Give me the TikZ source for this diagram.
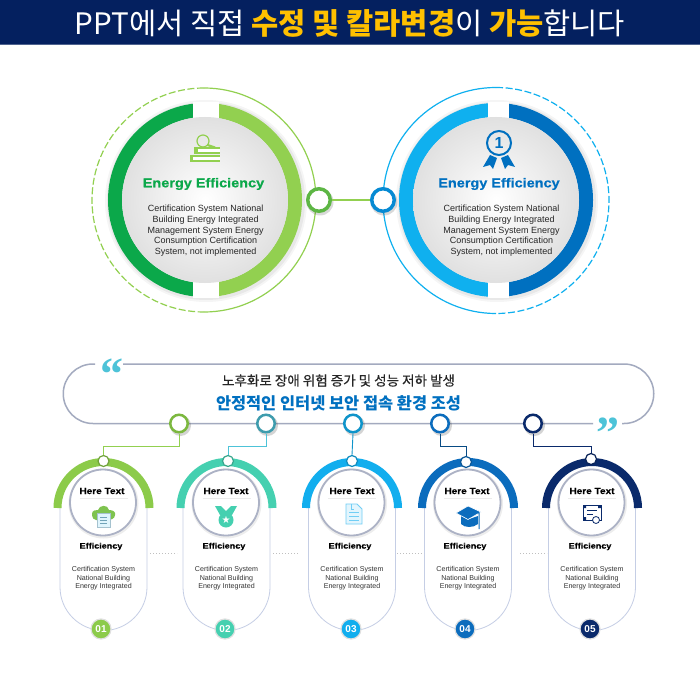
\documentclass[tikz,border=0pt]{standalone}
\usepackage{fontspec}
\usetikzlibrary{calc}
\setmainfont{Liberation Sans}
\newfontfamily\cjk{Noto Sans CJK KR}
\newfontfamily\cjkm[FakeBold=.35]{Noto Sans CJK KR}
\newfontfamily\wide[FakeStretch=1.13,BoldFeatures={FakeBold=.5}]{Liberation Sans}
\newfontfamily\qfont{Liberation Serif}
\definecolor{navy}{HTML}{04205F}
\definecolor{gold}{HTML}{FFC000}
\definecolor{gdark}{HTML}{0BA84A}
\definecolor{glight}{HTML}{92D050}
\definecolor{bcyan}{HTML}{0FB0EF}
\definecolor{bblue}{HTML}{0070C0}
\definecolor{track}{HTML}{A3AABF}
\definecolor{cOne}{HTML}{8CCB4A}
\definecolor{cTwo}{HTML}{45D0B0}
\definecolor{cThree}{HTML}{12AEEE}
\definecolor{cFour}{HTML}{0B6CBD}
\definecolor{cFive}{HTML}{0A2A6B}
\definecolor{caps}{HTML}{C5CEE5}
\definecolor{quote}{HTML}{4DC3D8}
\definecolor{hubgreen}{HTML}{7CB83F}
\definecolor{biggreen}{HTML}{5DB644}
\tikzset{
  bodytext/.style={font=\fontsize{9}{10.8}\selectfont,align=center,text=black!85,inner sep=0},
  smalltext/.style={font=\fontsize{7.1}{8.6}\selectfont,align=center,text=black!80,inner sep=0},
  bighub/.style={circle,draw=#1,fill=white,line width=3.5pt,minimum size=22.5pt,inner sep=0},
  trackhub/.style={circle,draw=#1,fill=white,line width=2.5pt,minimum size=17.5pt,inner sep=0},
  smallhub/.style={circle,draw=#1,fill=white,line width=1.2pt,minimum size=11pt,inner sep=0},
  badge/.style={circle,fill=#1,draw=black!12,line width=1.2pt,minimum size=20pt,inner sep=0,text=white,font=\bfseries\fontsize{10}{10}\selectfont},
}
\newcommand\bigdisk[5]{% cx, left colour, right colour, gap l, gap r
  \fill[black,opacity=.04] (#1+1,201) circle[radius=101pt];
  \fill[black,opacity=.05] (#1+1,201) circle[radius=99pt];
  \draw[line width=14pt,#2] (#1,110) arc[start angle=270,end angle=90,radius=90];
  \draw[line width=14pt,#3] (#1,110) arc[start angle=-90,end angle=90,radius=90];
  \fill[white] (#4,102) rectangle (#5,120);
  \fill[white] (#4,280) rectangle (#5,298);
  \shade[inner color=white,outer color=black!12] (#1,200) circle[radius=83pt];
}
\newcommand\column[9]{% id, cx, here x, eff x, badge x, small x, small y, colour, icon
  \draw[caps,line width=.8pt] (#2-43.5,505) -- (#2-43.5,587) arc[start angle=180,end angle=0,radius=43.5] -- (#2+43.5,505);
  \draw[line width=8pt,#8] (#2-46,508) arc[start angle=180,end angle=360,radius=46];
  \fill[black,opacity=.07] (#2,503.5) circle[radius=35pt];
  \draw[track!90,fill=white,line width=1.8pt] (#2-.5,502.5) circle[radius=33pt];
  \draw[black!8,line width=.5pt] (#2-24,498.5) -- (#2+24,498.5);
  \node[font=\wide\bfseries\fontsize{8.9}{10}\selectfont,inner sep=0] (here#1) at (#3,491) {Here Text};
  \node[font=\wide\bfseries\fontsize{8}{10}\selectfont,inner sep=0] (eff#1) at (#4,546.5) {Efficiency};
  \node[smalltext] (body#1) at (#2,578.2) {Certification System\\National Building\\Energy Integrated};
  \node[badge=#8] (badge#1) at (#5,629) {0#1};
  \node[smallhub=#8!80!black] (s#1) at (#6,#7) {};
  #9
}
\begin{document}
\begin{tikzpicture}[x=1pt,y=-1pt]
\useasboundingbox (0,0) rectangle (700,700);
\fill[white] (0,0) rectangle (700,700);
% header
\fill[navy] (0,0) rectangle (700,45);
\fill[navy!70] (0,44.4) rectangle (700,45.5);
\node[inner sep=0,text=white] (head) at (350,23.5) {\resizebox{550pt}{!}{\cjk\fontsize{30}{34}\selectfont PPT에서 직접 {\bfseries\color{gold}수정 및 칼라변경}이 {\bfseries\color{gold}가능}합니다}};
% big circles
\bigdisk{205}{gdark}{glight}{192.7}{219}
\bigdisk{496}{bcyan}{bblue}{488}{509}
\draw[glight,line width=1.2pt,dash pattern=on 7pt off 2.6pt] (204,88) arc[start angle=270,end angle=90,radius=112];
\draw[glight,line width=1.2pt] (204,88) arc[start angle=-90,end angle=90,radius=112];
\draw[bcyan,line width=1.2pt] (496,87.5) arc[start angle=270,end angle=90,radius=113];
\draw[bcyan,line width=1.2pt,dash pattern=on 7pt off 2.6pt] (496,87.5) arc[start angle=-90,end angle=90,radius=113];
\fill[black,opacity=.15] (320,202) circle[radius=13.5pt];
\fill[black,opacity=.15] (384,202) circle[radius=13.5pt];
\node[bighub=biggreen] (hubL) at (319,200) {};
\node[bighub=bblue!60!bcyan] (hubR) at (383,200) {};
\draw[glight,line width=1.2pt] (hubL) -- (hubR);
\node[font=\wide\bfseries\fontsize{12.8}{14}\selectfont,text=gdark,inner sep=0] (titleL) at (203.5,184) {Energy Efficiency};
\node[font=\wide\bfseries\fontsize{12.8}{14}\selectfont,text=bblue,inner sep=0] (titleR) at (499,184) {Energy Efficiency};
\node[bodytext] (bodyL) at (205.7,230.7) {Certification System National\\Building Energy Integrated\\Management System Energy\\Consumption Certification\\System, not implemented};
\node[bodytext] (bodyR) at (501.5,230.7) {Certification System National\\Building Energy Integrated\\Management System Energy\\Consumption Certification\\System, not implemented};
% books icon
\draw[glight,line width=1.2pt] (203,141) circle[radius=6pt];
\draw[glight,line width=2.2pt] (207.5,145) -- (215,147.5);
\fill[glight] (194,147) rectangle (220,154);
\fill[white] (198,149.2) rectangle (220,151.6);
\fill[glight] (190,155) rectangle (220,162.5);
\fill[white] (193,157.2) rectangle (220,160);
% medal icon
\draw[bblue,line width=2pt] (499,143) circle[radius=12pt];
\node[text=bblue,font=\bfseries\fontsize{16}{16}\selectfont,inner sep=0] (one) at (499,143) {1};
\fill[bblue] (490,155) -- (483,167) -- (490,165) -- (493,169) -- (497,158) -- cycle;
\fill[bblue] (508,155) -- (515,167) -- (508,165) -- (505,169) -- (501,158) -- cycle;
% track
\draw[track,line width=1.5pt] (95,364) -- (93,364) arc[start angle=270,end angle=90,radius=29.75] -- (593,423.5);
\draw[track,line width=1.5pt] (123,364) -- (624,364) arc[start angle=-90,end angle=90,radius=29.75] -- (622,423.5);
\node[inner sep=0,text=quote,font=\qfont\bfseries\fontsize{46}{46}\selectfont] (qL) at (112,374.5) {“};
\node[inner sep=0,text=quote,font=\qfont\bfseries\fontsize{46}{46}\selectfont] (qR) at (608,433.5) {”};
\node[inner sep=0,text=black!85,font=\cjkm\fontsize{13.5}{16}\selectfont] (line1) at (338.5,380.5) {\resizebox{233pt}{!}{노후화로 장애 위험 증가 및 성능 저하 발생}};
\node[inner sep=0,text=bblue,font=\cjk\bfseries\fontsize{17}{20}\selectfont] (line2) at (338.5,403) {\resizebox{245pt}{!}{안정적인 인터넷 보안 접속 환경 조성}};
% columns
\column{1}{103.5}{102}{101}{101}{103.5}{461}{cOne}{
  \fill[cOne!90!teal] (92,514) .. controls (92,510) and (96,510) .. (98,510) .. controls (99,505) and (108,504) .. (109,510) .. controls (113,510) and (116,512) .. (115,515) .. controls (115,519) and (110,520) .. (108,520) -- (96,520) .. controls (94,520) and (92,518) .. (92,514) -- cycle;
  \draw[black!10!cyan!40!gray!60,fill=cyan!12,line width=.8pt] (97,513) rectangle (110,527);
  \draw[cyan!40!gray,line width=.7pt] (100,517) -- (107,517) (100,520) -- (107,520) (100,523) -- (107,523);
}
\column{2}{226.5}{226}{224}{225}{228}{461}{cTwo}{
  \fill[cTwo] (215,506) -- (221,506) -- (226,511) -- (231,506) -- (237,506) -- (232,515) -- (220,515) -- cycle;
  \fill[cTwo] (226,520) circle[radius=7.5pt];
  \node[text=white,font=\fontsize{10}{10}\selectfont,inner sep=0] (star2) at (226,520) {\fontspec{DejaVu Sans}★};
}
\column{3}{352}{352}{350}{351}{352}{461}{cThree}{
  \draw[cThree!60,fill=cThree!12,line width=.9pt] (346,504) -- (357,504) -- (362,509) -- (362,524) -- (346,524) -- cycle;
  \draw[cThree!60,line width=.7pt] (349,512) -- (359,512) (349,516) -- (359,516) (349,520) -- (359,520) (351,504) -- (351,509) -- (354,509);
}
\column{4}{468}{467}{465}{465}{466}{462}{cFour}{
  \fill[cFour] (461,516) -- (468,519.5) -- (478,516) -- (478,524) .. controls (473,528) and (465,528) .. (461,524) -- cycle;
  \fill[cFour,draw=white,line width=.6pt] (456,513) -- (468,506) -- (481,512) -- (468,519.5) -- cycle;
  \draw[cFour,line width=1pt] (470,510) -- (479,513) -- (479,529);
}
\column{5}{592}{592}{590}{590}{591}{459}{cFive}{
  \draw[cFive,fill=white,line width=1pt] (583,505) rectangle (601,520);
  \draw[cFive,line width=.7pt] (587,510) -- (597,510) (587,514) -- (593,514);
  \fill[cFive] (583,505) rectangle (586,508) (598,505) rectangle (601,508) (583,517) rectangle (586,520);
  \draw[cFive,fill=white,line width=.8pt] (596,520) circle[radius=3.5pt];
}
% dotted separators
\foreach \a/\b [count=\i] in {150/177,273/299,397/424,520/547}
  \draw[black!25,line width=.6pt,dash pattern=on 1.4pt off 1.6pt] (\a,553) -- (\b,553);
% track hubs
\foreach \x/\c/\i in {179/hubgreen/1,266/quote!80!black/2,353/cThree!85!black/3,440/cFour/4,533/cFive/5}{
  \fill[black,opacity=.17] (\x+1.5,425.5) circle[radius=10.5pt];
  \node[trackhub=\c] (h\i) at (\x,423.5) {};
}
\coordinate (e1) at (103.5,446);
\coordinate (e2) at (228,446);
\coordinate (e4) at (466,446);
\coordinate (e5) at (591,446);
\draw[glight,line width=.9pt] (h1.south) |- (e1) -- (s1.north);
\draw[quote,line width=.9pt] (h2.south) |- (e2) -- (s2.north);
\draw[cThree!85!black,line width=.9pt] (h3.south) -- (s3.north);
\draw[cFour!70!black,line width=.9pt] (h4.south) |- (e4) -- (s4.north);
\draw[cFive,line width=.9pt] (h5.south) |- (e5) -- (s5.north);
\end{tikzpicture}
\end{document}
